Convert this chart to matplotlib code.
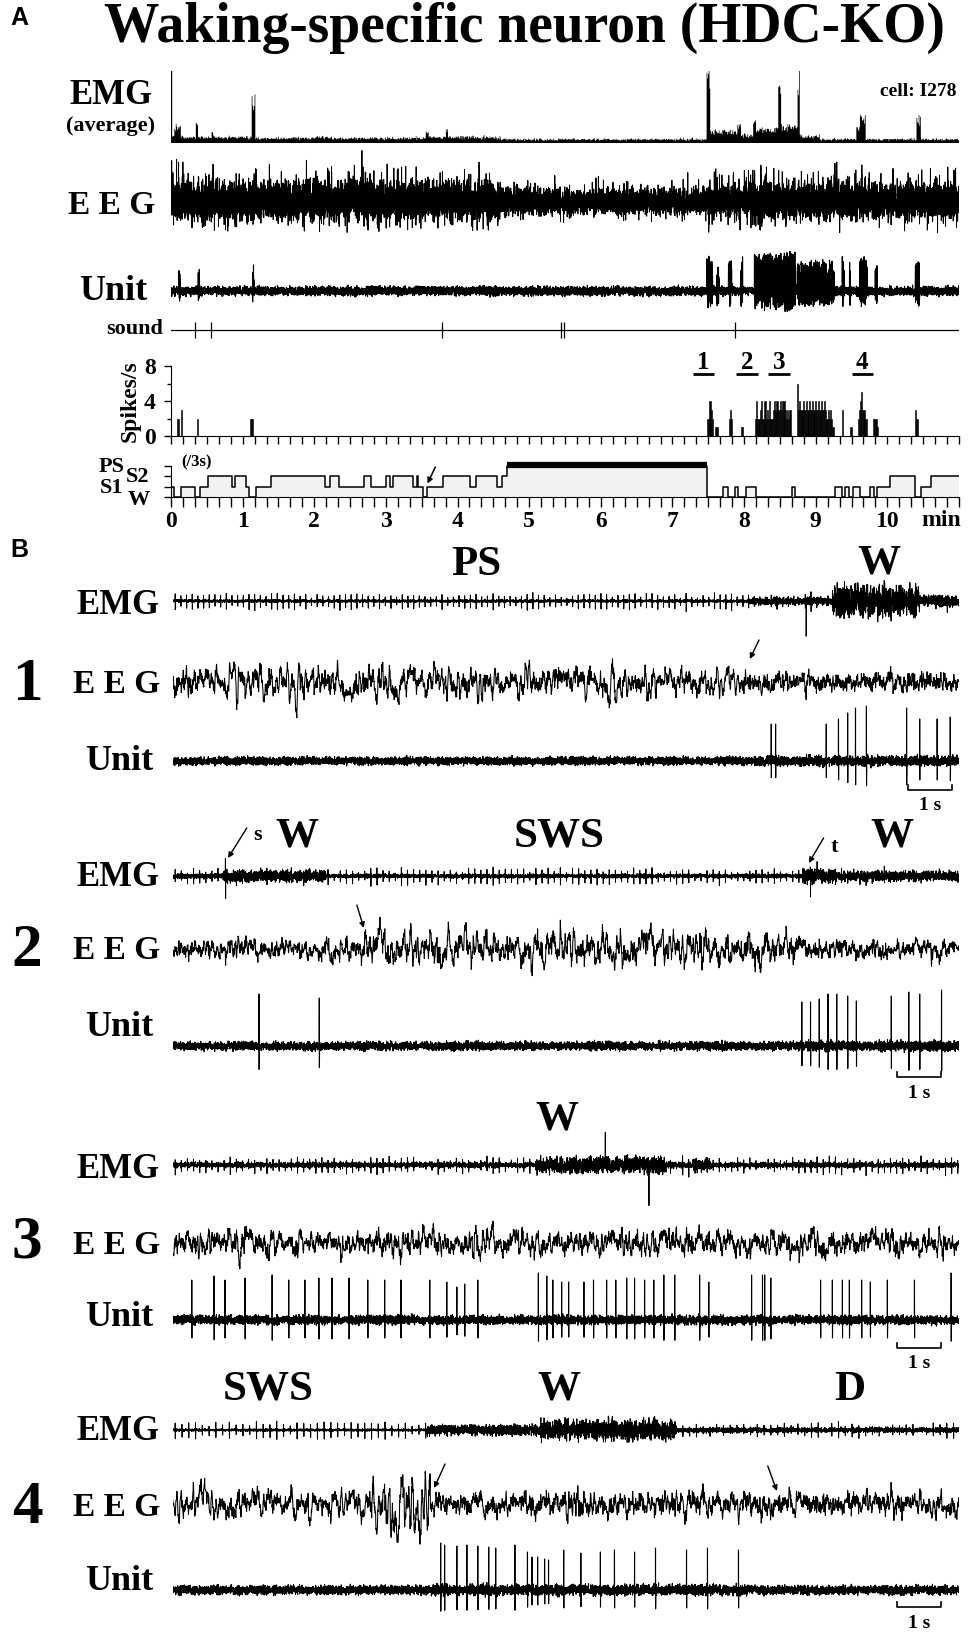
import numpy as np
import matplotlib
matplotlib.use('Agg')
import matplotlib.pyplot as plt

plt.rcParams['font.family'] = ['Liberation Serif', 'DejaVu Serif']
plt.rcParams['font.weight'] = 'bold'

W, H = 974, 1632

# ---------------- panel A data (time in min) ----------------
A_T = 11.0

# averaged EMG, step heights (px)
emg_seg_t = [0.00, 0.04, 0.13, 0.34, 0.37, 0.56, 0.59, 1.12, 1.17, 2.00,
             2.20, 3.55, 3.59, 3.83, 3.86, 4.60, 7.47, 7.52, 7.90, 7.95,
             8.12, 8.16, 8.47, 8.51, 8.74, 8.77, 9.05, 9.56, 9.61, 9.69,
             10.40, 10.46]
emg_seg_h = [6, 15, 5, 16, 5, 10, 5, 40, 4, 5,
             4, 11, 5, 13, 5, 3, 62, 10, 18, 7,
             24, 12, 49, 15, 58, 6, 3, 13, 25, 3,
             22, 3]

# EEG envelope (sd, px)
eeg_seg_t = [0.0, 4.6, 7.5, 8.0]
eeg_seg_sd = [9.5, 6.0, 7.5, 9.0]

# unit: bursts of spikes (start, end, height px)
unit_burst_t0 = [0.11, 0.38, 1.14, 7.48, 7.62, 7.78, 7.95, 8.14, 8.74, 9.37, 9.47, 9.61, 9.83, 10.39]
unit_burst_t1 = [0.13, 0.40, 1.16, 7.56, 7.65, 7.83, 7.98, 8.72, 9.26, 9.40, 9.48, 9.72, 9.86, 10.45]
unit_burst_amp = [25, 26, 31, 38, 32, 36, 36, 42, 33, 35, 35, 37, 30, 32]

sound_t = [0.34, 0.56, 3.78, 5.45, 5.49, 7.88]

# firing rate, 1-s bins (bin index in s, spikes/s)
rate_sec = [5, 6, 8, 22, 66, 67, 68, 449, 450, 451, 452, 453, 456, 457,
            467, 468, 469, 477, 478, 562, 569, 588, 589, 590, 591, 623, 624, 625]
rate_val = [2, 2, 3, 2, 2, 2, 2, 2, 2, 4, 3, 2, 1, 1,
            2, 3, 2, 1, 1, 3, 1, 2, 2, 2, 1, 3, 2, 2]
rate_block1_start = 489
rate_block1 = [2, 4, 2, 2, 3, 4, 2, 2, 4, 2, 3, 2, 4, 2, 2, 3, 4, 3, 4, 3,
               3, 4, 3, 4, 4, 3, 2, 3, 2, 3]
rate_block2_start = 524
rate_block2 = [6, 3, 4, 3, 3, 4, 3, 3, 4, 3, 4, 3, 3, 4, 3, 4, 3, 3, 4, 3,
               4, 3, 3, 4, 3, 2, 3, 2, 3, 2, 1]
rate_block3_start = 575
rate_block3 = [2, 3, 4, 5, 3, 3, 2, 2]

# hypnogram: 0=W, 1=S1, 2=S2, 3=PS
hyp_t = [0.00, 0.04, 0.14, 0.34, 0.40, 0.51, 0.85, 0.89, 1.05, 1.09,
         1.19, 1.39, 2.15, 2.22, 2.34, 2.70, 2.79, 3.00, 3.06, 3.10,
         3.38, 3.43, 3.45, 3.52, 3.57, 3.80, 4.17, 4.26, 4.55, 4.62,
         4.69, 7.48, 7.71, 7.77, 7.88, 7.92, 8.03, 8.17, 8.67, 8.71,
         9.27, 9.37, 9.41, 9.47, 9.52, 9.62, 9.76, 9.82, 9.86, 10.03,
         10.38, 10.47, 10.61]
hyp_s = [1, 0, 1, 0, 1, 2, 1, 2, 1, 0,
         1, 2, 1, 2, 1, 2, 1, 2, 1, 2,
         1, 2, 1, 0, 1, 2, 1, 2, 1, 2,
         3, 0, 1, 0, 1, 0, 1, 0, 1, 0,
         1, 0, 1, 0, 1, 0, 1, 0, 1, 2,
         0, 1, 2]

epoch_t = [7.28, 7.89, 8.34, 9.50]
epoch_names = ['1', '2', '3', '4']
EPOCH_LEN = 0.3

# ---------------- panel B data (time in s) ----------------
B_T = 18.0
b1_emg_t, b1_emg_sd, b1_emg_hb = [0, 13.2, 15.1, 17.1], [0.7, 1.8, 8.0, 2.8], [7, 6, 0, 4]
b1_art_t, b1_art_v = [14.5], [-35]
b1_eeg_t, b1_eeg_slow, b1_eeg_fast = [0, 11.0, 13.2], [8, 6, 3], [2.5, 2.5, 3.5]
b1_unit_t, b1_unit_sd = [0, 13.5], [2.0, 2.5]
b1_spk = [13.7, 13.8, 14.96, 15.24, 15.45, 15.63, 15.88, 16.8, 17.1, 17.5, 17.8]
b1_spk_h = [37, 37, 37, 42, 48, 53, 55, 53, 42, 42, 44]

b2_emg_t, b2_emg_sd, b2_emg_hb = [0, 1.15, 3.5, 14.4, 15.2], [1.2, 2.8, 1.0, 3.8, 2.4], [6, 5, 7, 4, 5]
b2_art_t, b2_art_v = [1.2, 1.205, 14.6], [22, -24, -20]
b2_eeg_t, b2_eeg_slow, b2_eeg_fast = [0, 4.3, 14.4], [3.5, 8.5, 3.5], [3, 3, 3]
b2_unit_t, b2_unit_sd = [0, 14.3], [2.1, 2.5]
b2_spk = [1.97, 3.35, 14.4, 14.6, 14.8, 15.0, 15.2, 15.45, 15.65, 16.45, 16.85, 17.1, 17.6]
b2_spk_h = [52, 48, 44, 44, 47, 52, 52, 50, 45, 50, 54, 52, 56]

b3_emg_t, b3_emg_sd, b3_emg_hb = [0, 8.3, 11.3, 11.9, 12.3], [1.3, 4.0, 1.5, 3.0, 1.3], [7, 4, 7, 5, 7]
b3_art_t, b3_art_v = [9.9, 10.9], [30, -37]
b3_eeg_t, b3_eeg_slow, b3_eeg_fast = [0, 2.0], [7, 5.5], [3, 3]
b3_unit_t, b3_unit_sd = [0], [2.2]
b3_spk = [0.43, 0.94, 1.19, 1.65, 2.27, 2.65, 3.02, 3.34, 3.64, 4.03,
          4.46, 4.85, 5.22, 5.88, 6.27, 6.50, 6.68, 6.98, 8.37, 8.56,
          8.70, 8.90, 9.06, 9.41, 9.63, 9.93, 10.14, 10.39, 10.57, 10.80,
          11.01, 11.24, 11.49, 12.06, 12.27, 13.25, 13.50, 13.55, 13.69, 14.83,
          15.10, 15.33, 15.49, 15.77, 15.97, 16.36, 16.98, 17.82]
b3_spk_h = [40, 44, 40, 42, 45, 40, 40, 42, 42, 42,
            40, 40, 40, 40, 38, 33, 36, 40, 47, 44,
            40, 38, 38, 38, 40, 40, 40, 42, 42, 40,
            40, 45, 45, 45, 38, 45, 45, 45, 42, 40,
            40, 40, 40, 40, 38, 40, 40, 47]

b4_emg_t, b4_emg_sd, b4_emg_hb = [0, 5.8, 8.4, 11.5], [0.6, 2.6, 5.0, 1.2], [7, 3, 2, 6]
b4_art_t, b4_art_v = [], []
b4_eeg_t, b4_eeg_slow, b4_eeg_fast = [0, 4.5, 5.9], [6.5, 15, 5], [3, 3, 3.5]
b4_unit_t, b4_unit_sd = [0, 5.9, 13.2], [2.2, 2.6, 2.2]
b4_spk = [6.13, 6.22, 6.50, 6.73, 6.98, 7.23, 7.39, 7.83, 8.12, 8.22, 8.35,
          8.51, 8.60, 8.95, 9.34, 9.79, 10.11, 10.57, 11.05, 11.76, 12.24, 12.95]
b4_spk_h = [47, 45, 44, 45, 44, 43, 42, 45, 38, 33, 33,
            31, 30, 40, 37, 38, 40, 38, 42, 40, 42, 40]

hb_period = [0.13, 0.14, 0.14, 0.155]
bar_start = [16.83, 16.58, 16.58, 16.58]


# ---------------- helpers ----------------
# the fine texture of raw traces cannot be read off the picture; a fixed
# deterministic hash gives it, scaled by the envelopes read above
def hnoise(n, seed):
    k = np.arange(n, dtype=float)
    v = np.sin(k * 12.9898 + seed * 78.233) * 43758.5453
    return (v - np.floor(v)) * 2 - 1


def gnoise(n, seed):
    return hnoise(n, seed) + hnoise(n, seed + 17.3) + hnoise(n, seed + 41.9)


def smooth(x, w):
    y = np.convolve(x, np.ones(w) / w, mode='same')
    return y / y.std()


def steps(t, seg_t, seg_v):
    idx = np.searchsorted(np.asarray(seg_t, float), t, side='right') - 1
    return np.asarray(seg_v, float)[np.clip(idx, 0, None)]


def fx(x):
    return x / W


def fy(y):
    return 1 - y / H


def trace_axes(x0, x1, yc, half, xmax):
    ax = fig.add_axes([fx(x0), fy(yc + half), (x1 - x0) / W, 2 * half / H])
    ax.set_xlim(0, xmax)
    ax.set_ylim(-half, half)
    ax.axis('off')
    return ax


def label(x, y, s, size, ha='center', family=None, **kw):
    # va='center' sits a little high for these bold serif labels
    fig.text(fx(x), fy(y + 3), s, fontsize=size, ha=ha, va='center',
             family=family or ['Liberation Serif', 'DejaVu Serif'], weight='bold', **kw)


def emg_trace(fs, seg_t, seg_sd, seg_hb, period, art_t, art_v, seed):
    t = np.arange(0, B_T, 1 / fs)
    v = gnoise(len(t), seed) * steps(t, seg_t, seg_sd)
    hb = np.arange(0.05, B_T - 0.02, period)
    idx = (hb * fs).astype(int)
    amp = steps(hb, seg_t, seg_hb) * (0.8 + 0.3 * hnoise(len(hb), seed + 5))
    v[idx] += amp
    v[idx + 1] -= 1.2 * amp
    for ta, a in zip(art_t, art_v):
        v[int(ta * fs)] += a
    return t, v


def eeg_trace(fs, seg_t, slow_sd, fast_sd, seed):
    t = np.arange(0, B_T, 1 / fs)
    n = len(t)
    slow = smooth(gnoise(n, seed), 9)
    fast = smooth(gnoise(n, seed + 3), 2)
    return t, slow * steps(t, seg_t, slow_sd) + fast * steps(t, seg_t, fast_sd)


def unit_trace(fs, seg_t, seg_sd, spk, spk_h, seed):
    t = np.arange(0, B_T, 1 / fs)
    v = gnoise(len(t), seed) * steps(t, seg_t, seg_sd)
    for ts, h in zip(spk, spk_h):
        i = int(ts * fs)
        v[i] = h
        v[i + 1] = -0.45 * h
    return t, v


fig = plt.figure(figsize=(W / 100, H / 100), dpi=100)
LW = 0.75
AX0, AX1 = 171, 959

# ---------------- panel A ----------------
label(19, 15, 'A', 18, family=['Liberation Sans', 'DejaVu Sans'])
label(524, 25, 'Waking-specific neuron (HDC-KO)', 40)

# averaged EMG
ax = fig.add_axes([fx(AX0), fy(143), (AX1 - AX0) / W, 72 / H])
ax.set_xlim(0, A_T)
ax.set_ylim(-1, 71)
ax.axis('off')
tb = np.arange(0, A_T, 0.01)
hb_ = steps(tb, emg_seg_t, emg_seg_h)
hb_ = np.clip(hb_ * (1 + 0.25 * hnoise(len(tb), 2.2)) + 1.3 * hnoise(len(tb), 4.4) ** 3, 1.5, None)
ax.fill_between(tb, 0, hb_, step='post', color='k', lw=0)
ax.axhline(0, color='k', lw=2)
ax.axvline(0, color='k', lw=1)
label(111, 92, 'EMG', 25)
label(111, 123, '(average)', 16)
label(957, 88, 'cell: I278', 14, ha='right')

# EEG
ax = trace_axes(AX0, AX1, 203, 55, A_T)
n = 12000
t = np.linspace(0, A_T, n)
sd = steps(t, eeg_seg_t, eeg_seg_sd)
v = sd * (0.85 * gnoise(n, 3.1) + 2.6 * hnoise(n, 8.7) ** 9)
v = np.where(v > 0, v * 1.2, v * 0.85)
ax.plot(t, v, color='k', lw=0.7)
label(112, 203, 'E E G', 24)

# unit
ax = trace_axes(AX0, AX1, 291, 55, A_T)
n = 9000
t = np.linspace(0, A_T, n)
v = 2.2 * gnoise(n, 5.5)
h1 = hnoise(n, 6.6)
h2 = hnoise(n, 7.7)
for t0, t1, a in zip(unit_burst_t0, unit_burst_t1, unit_burst_amp):
    m = (t >= t0) & (t <= t1)
    v[m] = a * (0.9 + 0.1 * h2[m]) * (0.25 + 0.75 * h1[m])
ax.plot(t, v, color='k', lw=0.8)
label(113, 288, 'Unit', 26)

# sound
ax = trace_axes(AX0, AX1, 330, 12, A_T)
ax.axhline(0, color='k', lw=0.9)
ax.vlines(sound_t, -8, 8, color='k', lw=0.9)
label(163, 326, 'sound', 16, ha='right')

# spikes/s
ax = fig.add_axes([fx(AX0), fy(436), (AX1 - AX0) / W, 70 / H])
ax.set_xlim(0, A_T)
ax.set_ylim(0, 8)
rt = np.array(rate_sec + [rate_block1_start + i for i in range(len(rate_block1))]
              + [rate_block2_start + i for i in range(len(rate_block2))]
              + [rate_block3_start + i for i in range(len(rate_block3))]) / 60.0
rv = np.array(rate_val + rate_block1 + rate_block2 + rate_block3)
ax.bar(rt, rv, width=1 / 60, align='edge', color='k', edgecolor='k', lw=0.4)
for s in ['top', 'right']:
    ax.spines[s].set_visible(False)
ax.spines['left'].set_bounds(0, 8)
ax.set_yticks([0, 4, 8])
ax.set_yticks([2, 6], minor=True)
ax.set_xticks(np.arange(0, A_T + 0.01, 1 / 6))
ax.tick_params(axis='x', direction='out', length=6, width=1, labelbottom=False)
ax.tick_params(axis='y', which='major', direction='out', length=5, width=1, labelsize=17, pad=6)
ax.tick_params(axis='y', which='minor', direction='out', length=3, width=1)
ax.patch.set_visible(False)
ax.set_ylabel('Spikes/s', fontsize=17, fontweight='bold', labelpad=2)
for et, nm in zip(epoch_t, epoch_names):
    ax.hlines(7.05, et, et + EPOCH_LEN, color='k', lw=2, clip_on=False)
    ax.text(et + EPOCH_LEN / 2, 8.45, nm, fontsize=18, ha='center', va='center', clip_on=False)

# hypnogram
ax = fig.add_axes([fx(AX0), fy(497), (AX1 - AX0) / W, 37 / H])
ax.set_xlim(0, A_T)
ax.set_ylim(0, 37 / 10.33)
ht = np.r_[hyp_t, A_T]
hs = np.r_[hyp_s, hyp_s[-1]]
ax.fill_between(ht, 0, hs, step='post', color='#f2f2f2', lw=0)
ax.step(ht, hs, where='post', color='k', lw=1.1)
hs_arr = np.asarray(hyp_s)
for i in np.where(hs_arr == 3)[0]:
    ax.hlines(3.05, ht[i], ht[i + 1], color='k', lw=4.5)
for s in ['top', 'right']:
    ax.spines[s].set_visible(False)
ax.spines['left'].set_bounds(0, 3)
ax.set_yticks([0, 1, 2, 3])
ax.set_yticklabels([])
ax.set_xticks(np.arange(0, 11))
ax.set_xticklabels([str(i) for i in range(11)])
ax.set_xticks(np.arange(0, A_T + 0.01, 1 / 6), minor=True)
ax.tick_params(axis='x', which='both', direction='out', length=7, width=1, labelsize=17, pad=3)
ax.tick_params(axis='y', direction='out', length=5, width=1)
ax.patch.set_visible(False)
ax.annotate('', xy=(3.58, 1.3), xytext=(3.69, 2.9),
            arrowprops=dict(arrowstyle='-|>', color='k', lw=1.1, mutation_scale=8,
                            shrinkA=0, shrinkB=0))
label(941, 517, 'min', 17)
label(197, 459, '(/3s)', 12)
label(112, 464, 'PS', 16)
label(138, 474, 'S2', 16)
label(112, 485, 'S1', 16)
label(139, 497, 'W', 16)

# ---------------- panel B ----------------
label(19, 547, 'B', 18, family=['Liberation Sans', 'DejaVu Sans'])

BX0, BX1 = 173, 959
panels = [
    dict(emg=(b1_emg_t, b1_emg_sd, b1_emg_hb, b1_art_t, b1_art_v),
         eeg=(b1_eeg_t, b1_eeg_slow, b1_eeg_fast),
         unit=(b1_unit_t, b1_unit_sd, b1_spk, b1_spk_h),
         ys=(601, 682, 761), lab=(602, 682, 758), num=682, bar=(790, 803),
         states=[('PS', 476, 562), ('W', 879, 560)]),
    dict(emg=(b2_emg_t, b2_emg_sd, b2_emg_hb, b2_art_t, b2_art_v),
         eeg=(b2_eeg_t, b2_eeg_slow, b2_eeg_fast),
         unit=(b2_unit_t, b2_unit_sd, b2_spk, b2_spk_h),
         ys=(876, 949, 1046), lab=(874, 947, 1024), num=948, bar=(1077, 1091),
         states=[('W', 297, 834), ('SWS', 559, 834), ('W', 892, 834)]),
    dict(emg=(b3_emg_t, b3_emg_sd, b3_emg_hb, b3_art_t, b3_art_v),
         eeg=(b3_eeg_t, b3_eeg_slow, b3_eeg_fast),
         unit=(b3_unit_t, b3_unit_sd, b3_spk, b3_spk_h),
         ys=(1165, 1243, 1320), lab=(1166, 1243, 1315), num=1240, bar=(1348, 1361),
         states=[('W', 557, 1117)]),
    dict(emg=(b4_emg_t, b4_emg_sd, b4_emg_hb, b4_art_t, b4_art_v),
         eeg=(b4_eeg_t, b4_eeg_slow, b4_eeg_fast),
         unit=(b4_unit_t, b4_unit_sd, b4_spk, b4_spk_h),
         ys=(1430, 1504, 1590), lab=(1429, 1505, 1579), num=1505, bar=(1607, 1620),
         states=[('SWS', 268, 1387), ('W', 559, 1387), ('D', 850, 1387)]),
]

arrow_kw = dict(arrowstyle='-|>', color='k', lw=1.0, mutation_scale=8, shrinkA=0, shrinkB=0)
eeg_axes = []
emg_axes = []
for k, p in enumerate(panels):
    ey, gy, uy = p['ys']
    ax = trace_axes(BX0, BX1, ey, 45, B_T)
    st, sv, shb, at, av = p['emg']
    t, v = emg_trace(400, st, sv, shb, hb_period[k], at, av, 11.0 + k)
    ax.plot(t, v, color='k', lw=0.7)
    emg_axes.append(ax)

    ax = trace_axes(BX0, BX1, gy, 55, B_T)
    et, es, ef = p['eeg']
    t, v = eeg_trace(200, et, es, ef, 21.0 + k)
    ax.plot(t, v, color='k', lw=LW)
    eeg_axes.append(ax)

    ax = trace_axes(BX0, BX1, uy, 70, B_T)
    ut, us, sp, sh = p['unit']
    t, v = unit_trace(400, ut, us, sp, sh, 31.0 + k)
    ax.plot(t, v, color='k', lw=0.8)
    by, ty = p['bar']
    b0 = bar_start[k]
    ax.plot([b0, b0, b0 + 1, b0 + 1], [uy - by + 5, uy - by, uy - by, uy - by + 5],
            color='k', lw=1.2, clip_on=False)
    label(BX0 + (b0 + 0.5) * (BX1 - BX0) / B_T, ty, '1 s', 14)

    ly = p['lab']
    label(160, ly[0], 'EMG', 25, ha='right')
    label(160, ly[1], 'E E G', 24, ha='right')
    label(153, ly[2], 'Unit', 26, ha='right')
    label(27, p['num'], str(k + 1), 44)
    for s, x, y in p['states']:
        label(x, y, s, 31)

# arrows in panel B
eeg_axes[0].annotate('', xy=(13.21, 23), xytext=(13.42, 42), arrowprops=arrow_kw, annotation_clip=False)
emg_axes[1].annotate('', xy=(1.26, 18), xytext=(1.69, 48), arrowprops=arrow_kw, annotation_clip=False)
emg_axes[1].annotate('', xy=(14.56, 13), xytext=(14.9, 38), arrowprops=arrow_kw, annotation_clip=False)
eeg_axes[1].annotate('', xy=(4.37, 21), xytext=(4.21, 44), arrowprops=arrow_kw, annotation_clip=False)
eeg_axes[3].annotate('', xy=(5.98, 16), xytext=(6.23, 40), arrowprops=arrow_kw, annotation_clip=False)
eeg_axes[3].annotate('', xy=(13.83, 13), xytext=(13.62, 38), arrowprops=arrow_kw, annotation_clip=False)
label(253, 832, 's', 16, ha='left')
label(831, 844, 't', 16, ha='left')

fig.savefig('out.png', dpi=100)
